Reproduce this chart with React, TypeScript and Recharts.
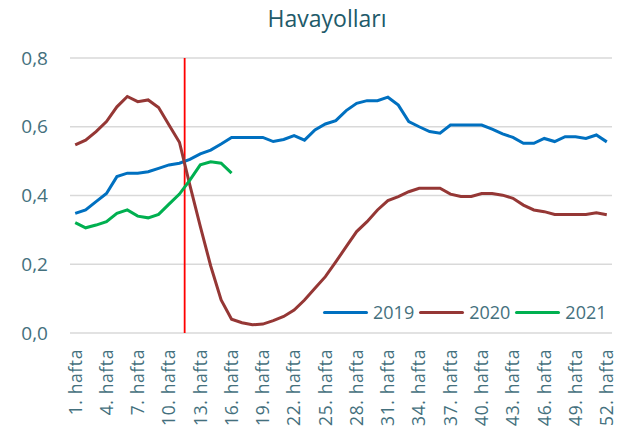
import React from "react";
import { LineChart, Line, XAxis, YAxis, CartesianGrid, ReferenceLine } from "recharts";

const weeks = [1,2,3,4,5,6,7,8,9,10,11,12,13,14,15,16,17,18,19,20,21,22,23,24,25,26,27,28,29,30,31,32,33,34,35,36,37,38,39,40,41,42,43,44,45,46,47,48,49,50,51,52];
const tickWeeks = [1,4,7,10,13,16,19,22,25,28,31,34,37,40,43,46,49,52];
const yTicks = [0, 0.2, 0.4, 0.6, 0.8];

const s2019 = [0.348,0.358,0.382,0.406,0.455,0.465,0.465,0.469,0.479,0.489,0.494,0.505,0.521,0.532,0.55,0.569,0.569,0.569,0.569,0.557,0.563,0.574,0.561,0.591,0.608,0.618,0.647,0.668,0.676,0.676,0.686,0.663,0.615,0.6,0.586,0.581,0.605,0.605,0.605,0.605,0.593,0.579,0.569,0.552,0.552,0.566,0.557,0.571,0.571,0.566,0.576,0.556];
const s2020 = [0.547,0.561,0.586,0.615,0.658,0.688,0.673,0.678,0.656,0.605,0.555,0.43,0.31,0.195,0.096,0.04,0.03,0.024,0.026,0.036,0.048,0.067,0.096,0.13,0.164,0.207,0.251,0.295,0.324,0.358,0.385,0.397,0.411,0.421,0.421,0.421,0.404,0.397,0.397,0.406,0.406,0.401,0.392,0.372,0.358,0.353,0.345,0.345,0.345,0.345,0.35,0.344];
const s2021 = [0.321,0.306,0.314,0.324,0.348,0.358,0.34,0.335,0.345,0.375,0.404,0.445,0.489,0.498,0.494,0.465];

const series = [
  { key: "2019", values: s2019, color: "#0070C0" },
  { key: "2020", values: s2020, color: "#953735" },
  { key: "2021", values: s2021, color: "#00B050" },
];

const markerWeek = 11.5;

const data = weeks.map((w, i) => {
  const row: any = { week: w };
  series.forEach((s) => {
    row[s.key] = i < s.values.length ? s.values[i] : null;
  });
  return row;
});

const textColor = "#44707D";
const font = "'Open Sans', sans-serif";

const XTick = (props: any) => {
  const { x, y, payload } = props;
  return (
    <g transform={`translate(${x},${y})`}>
      <text
        transform="rotate(-90)"
        textAnchor="end"
        dy="0.36em"
        fill={textColor}
        fontSize={17.5}
        fontFamily={font}
        letterSpacing={0.6}
      >
        {`${payload.value}. hafta`}
      </text>
    </g>
  );
};

export default function App() {
  return (
    <div style={{ position: "fixed", left: 0, top: 0, width: 621, height: 431, background: "#fff" }}>
      <svg width={621} height={40} style={{ position: "absolute", left: 0, top: 0 }}>
        <text x={327} y={27} textAnchor="middle" fontFamily={font} fontSize={23} fill="#215A69">
          Havayolları
        </text>
      </svg>
      <div style={{ position: "absolute", left: 0, top: 0 }}>
        <LineChart width={621} height={431} data={data} margin={{ top: 58, right: 9, bottom: 0, left: 0 }}>
          <CartesianGrid horizontal={true} vertical={false} stroke="#D9D9D9" strokeWidth={1.5} />
          <XAxis
            dataKey="week"
            type="number"
            domain={[0.5, 52.5]}
            ticks={tickWeeks}
            interval={0}
            axisLine={false}
            tickLine={false}
            tickSize={0}
            tickMargin={16}
            height={98}
            tick={<XTick />}
          />
          <YAxis
            domain={[0, 0.8]}
            ticks={yTicks}
            axisLine={false}
            tickLine={false}
            tickSize={0}
            tickMargin={22}
            width={70}
            tick={{ fill: textColor, fontSize: 19, fontFamily: font }}
            tickFormatter={(v: number) => v.toFixed(1).replace(".", ",")}
          />
          <ReferenceLine x={markerWeek} stroke="#FF0000" strokeWidth={1.8} />
          {series.map((s) => (
            <Line
              key={s.key}
              dataKey={s.key}
              stroke={s.color}
              strokeWidth={3}
              dot={false}
              type="linear"
              connectNulls={false}
              isAnimationActive={false}
            />
          ))}
        </LineChart>
      </div>
      <div
        style={{
          position: "absolute",
          left: 323,
          top: 300,
          display: "flex",
          alignItems: "center",
          fontFamily: font,
          fontSize: 18,
          color: textColor,
          lineHeight: "24px",
        }}
      >
        {series.map((s) => (
          <div key={s.key} style={{ display: "flex", alignItems: "center", marginRight: 5 }}>
            <div style={{ width: 45, height: 3, background: s.color, borderRadius: 2, marginRight: 5 }} />
            <span>{s.key}</span>
          </div>
        ))}
      </div>
    </div>
  );
}
